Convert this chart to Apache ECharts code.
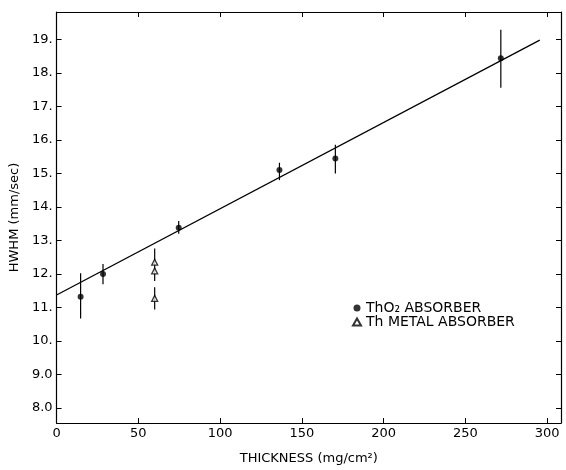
<!DOCTYPE html>
<html>
<head>
<meta charset="utf-8">
<script src="https://cdn.jsdelivr.net/npm/echarts@6/dist/echarts.min.js"></script>
<style>
  html, body { margin: 0; padding: 0; background: #fff; }
  #chart { width: 566px; height: 470px; }
</style>
</head>
<body>
<div id="chart"></div>
<script>
// ThO2 absorber points with their error bars
var thO2X = [14.7, 28.4, 74.7, 136.3, 170.5, 271.7];
var thO2Y = [11.32, 12.0, 13.38, 15.1, 15.45, 18.44];
var thO2Lo = [10.67, 11.69, 13.2, 14.8, 15.0, 17.56];
var thO2Hi = [12.02, 12.3, 13.58, 15.32, 15.86, 19.29];

// Th metal absorber points
var metalX = [60, 60, 60];
var metalY = [12.35, 12.09, 11.27];
var metalBarX = [60, 60];
var metalBarLo = [11.79, 10.94];
var metalBarHi = [12.76, 11.6];

// fitted line
var fitX = [0, 295.5];
var fitY = [11.37, 18.98];

// ticks
var xTicks = [0, 50, 100, 150, 200, 250, 300];
var yTicks = [8, 9, 10, 11, 12, 13, 14, 15, 16, 17, 18, 19];
var yTickLabels = ['8.0', '9.0', '10.', '11.', '12.', '13.', '14.', '15.', '16.', '17.', '18.', '19.'];

var ink = '#000';
var font = 'DejaVu Sans';

function zip(xs, ys) {
  return xs.map(function (x, i) { return [x, ys[i]]; });
}
function bars(xs, lo, hi) {
  return xs.map(function (x, i) { return [x, lo[i], hi[i]]; });
}

function errorBar(params, api) {
  var p1 = api.coord([api.value(0), api.value(1)]);
  var p2 = api.coord([api.value(0), api.value(2)]);
  return {
    type: 'line',
    shape: { x1: p1[0], y1: p1[1], x2: p2[0], y2: p2[1] },
    style: { stroke: ink, lineWidth: 1.2 }
  };
}

var chart = echarts.init(document.getElementById('chart'));

function xAxisOf(pos, showLabel) {
  return {
    type: 'value', min: 0, max: 308.5, position: pos,
    axisLine: { show: true, onZero: false, lineStyle: { color: ink, width: 1.2 } },
    axisTick: { show: true, inside: true, length: 5, customValues: xTicks, lineStyle: { color: ink } },
    axisLabel: {
      show: showLabel, customValues: xTicks, color: ink, fontFamily: font, fontSize: 13, margin: 4
    },
    splitLine: { show: false }
  };
}
function yAxisOf(pos, showLabel) {
  return {
    type: 'value', min: 7.55, max: 19.82, position: pos,
    axisLine: { show: true, onZero: false, lineStyle: { color: ink, width: 1.2 } },
    axisTick: { show: true, inside: true, length: 5, customValues: yTicks, lineStyle: { color: ink } },
    axisLabel: {
      show: showLabel, customValues: yTicks, color: ink, fontFamily: font, fontSize: 13, margin: 4,
      formatter: function (v) { return yTickLabels[yTicks.indexOf(Math.round(v))]; }
    },
    splitLine: { show: false }
  };
}

var xBottom = xAxisOf('bottom', true);
xBottom.name = 'THICKNESS (mg/cm²)';
xBottom.nameLocation = 'middle';
xBottom.nameGap = 29;
xBottom.nameTextStyle = { color: ink, fontFamily: font, fontSize: 13 };

var yLeft = yAxisOf('left', true);
yLeft.name = 'HWHM (mm/sec)';
yLeft.nameLocation = 'middle';
yLeft.nameGap = 30;
yLeft.nameTextStyle = { color: ink, fontFamily: font, fontSize: 13 };

chart.setOption({
  backgroundColor: '#fff',
  animation: false,
  grid: { left: 50, right: 5, top: 12, bottom: 40 },
  legend: {
    data: ['ThO₂ ABSORBER', 'Th METAL ABSORBER'],
    orient: 'vertical',
    left: 350, top: 299,
    itemWidth: 8, itemHeight: 7, itemGap: 0, padding: 2,
    textStyle: { color: ink, fontFamily: font, fontSize: 14, lineHeight: 14 }
  },
  xAxis: [xBottom, xAxisOf('top', false)],
  yAxis: [yLeft, yAxisOf('right', false)],
  series: [
    {
      name: 'fit', type: 'line', data: zip(fitX, fitY),
      symbol: 'none', lineStyle: { color: ink, width: 1.3 }, silent: true
    },
    {
      name: 'thO2 bars', type: 'custom', renderItem: errorBar,
      data: bars(thO2X, thO2Lo, thO2Hi), silent: true
    },
    {
      name: 'metal bars', type: 'custom', renderItem: errorBar,
      data: bars(metalBarX, metalBarLo, metalBarHi), silent: true
    },
    {
      name: 'ThO₂ ABSORBER', type: 'scatter', data: zip(thO2X, thO2Y),
      symbol: 'circle', symbolSize: 6, itemStyle: { color: ink }
    },
    {
      name: 'Th METAL ABSORBER', type: 'scatter', data: zip(metalX, metalY),
      symbol: 'triangle', symbolSize: 6,
      itemStyle: { color: '#fff', borderColor: ink, borderWidth: 1.3 }
    }
  ]
});
</script>
</body>
</html>
